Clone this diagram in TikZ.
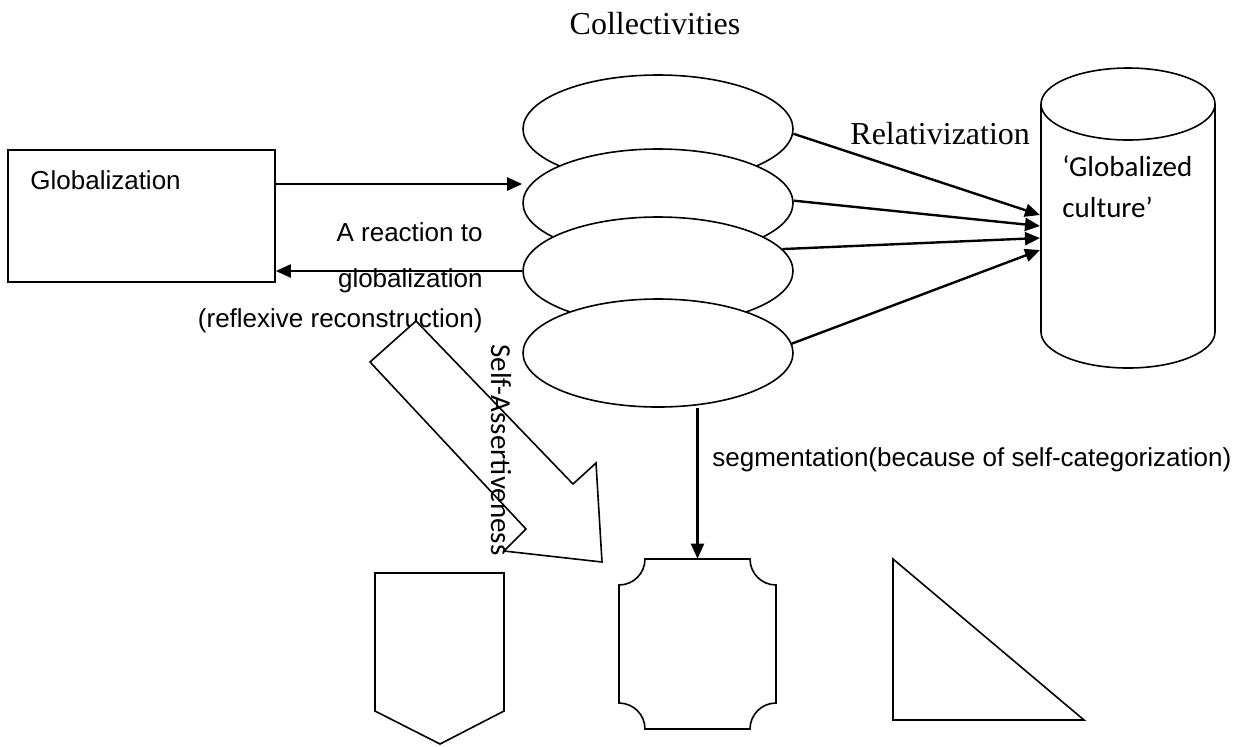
\documentclass[tikz,border=0pt]{standalone}
\usepackage{fontspec}
\usetikzlibrary{shapes.geometric,arrows.meta}
\newfontfamily\arialf{Liberation Sans}
\newfontfamily\timesf{Liberation Serif}
\newfontfamily\calibf{Carlito}
\begin{document}
\begin{tikzpicture}[x=0.5pt,y=-0.5pt,
  shp/.style={draw, line width=0.8pt, fill=white},
  conn/.style={line width=1.2pt, -{Triangle[length=7.5pt,width=6.5pt]}},
  sanst/.style={font=\arialf\fontsize{13}{15}\selectfont, inner sep=0pt},
  seriftxt/.style={font=\timesf\fontsize{16}{18}\selectfont, inner sep=0pt},
  calibtxt/.style={font=\calibf\fontsize{14.5}{17}\selectfont, inner sep=0pt},
  ell/.style={shp, ellipse, minimum width=135pt, minimum height=54pt, inner sep=0pt}]
\useasboundingbox (0,0) rectangle (1251,746);
\fill[white] (0,0) rectangle (1251,746);

% title
\node[seriftxt, anchor=base] (title) at (655,34) {Collectivities};

% Globalization box
\node[shp, rectangle, minimum width=133.5pt, minimum height=66pt, inner sep=0pt] (glob) at (141.5,216) {};
\node[sanst, anchor=base west] (globt) at (30,189) {Globalization};

% collectivities (stacked ellipses)
\node[ell] (e1) at (658,129) {};
\node[ell] (e2) at (658,203) {};
\node[ell] (e3) at (658,271) {};
\node[ell] (e4) at (658,353) {};

% cylinder
\draw[shp] (1041,104) -- (1041,332)
  arc[start angle=180, end angle=360, x radius=43.5pt, y radius=18pt]
  -- (1215,104)
  arc[start angle=0, end angle=180, x radius=43.5pt, y radius=18pt] -- cycle;
\draw[line width=0.8pt] (1041,104) arc[start angle=180, end angle=360, x radius=43.5pt, y radius=18pt];
\node[minimum width=87pt, minimum height=150pt, inner sep=0pt] (cyl) at (1128,217) {};
\node[calibtxt, anchor=base west] (gc1) at (1062,176) {‘Globalized};
\node[calibtxt, anchor=base west] (gc2) at (1062,217) {culture’};

\coordinate (t1) at (1040,215);
\coordinate (t2) at (1040,226);
\coordinate (t3) at (1040,238);
\coordinate (t4) at (1040,250);

% relativization connectors
\node[seriftxt, anchor=base west] (rel) at (850,144) {Relativization};
\draw[conn] (e1.-2) -- (t1);
\draw[conn] (e2.1) -- (t2);
\draw[conn] (e3.10) -- (t3);
\draw[conn] (e4.4) -- (t4);

% globalization arrows
\path ([yshift=16pt]glob.east) coordinate (ga);
\draw[conn] (ga) -- (ga -| e2.west);
\draw[conn] (e3.west) -- (e3.west -| glob.east);

\node[sanst, anchor=base east] (r1) at (483,241) {A reaction to};
\node[sanst, anchor=base east] (r2) at (483,287) {globalization};
\node[sanst, anchor=base east] (r3) at (483,327) {(reflexive reconstruction)};

% block arrow
\draw[shp, line join=miter] (370,362) -- (416,321) -- (573,484) -- (596,463)
  -- (602,562) -- (504,551) -- (526,529) -- cycle;
\node[calibtxt, rotate=-90] (sa) at (501,450) {Self-Assertiveness};

% bottom shapes
\node[minimum width=78.5pt, minimum height=85pt, inner sep=0pt] (plq) at (697.5,644) {};
\draw[shp] (645,559) -- (750,559)
  arc[start angle=180, end angle=270, radius=13pt] -- (776,703)
  arc[start angle=90, end angle=180, radius=13pt] -- (645,729)
  arc[start angle=0, end angle=90, radius=13pt] -- (619,585)
  arc[start angle=-90, end angle=0, radius=13pt] -- cycle;

\draw[shp, line join=miter] (375,573) -- (504,573) -- (504,711) -- (440,744) -- (375,711) -- cycle;
\draw[shp, line join=miter] (893,559) -- (893,720) -- (1084,720) -- cycle;

% segmentation
\draw[conn] (e4.south -| plq.north) -- (plq.north);
\node[sanst, anchor=base west] (seg) at (712,466) {segmentation(because of self-categorization)};
\end{tikzpicture}
\end{document}
